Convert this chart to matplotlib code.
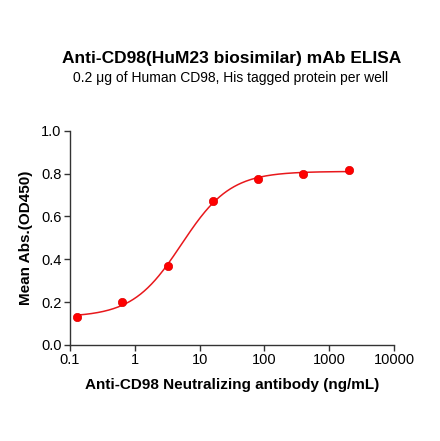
import numpy as np
import matplotlib
matplotlib.use("Agg")
import matplotlib.pyplot as plt

plt.rcParams['font.family'] = ['Liberation Sans', 'DejaVu Sans']

# Data
conc = [0.128, 0.64, 3.2, 16, 80, 400, 2000]
od450 = [0.131, 0.200, 0.370, 0.672, 0.775, 0.799, 0.816]
xticks = [0.1, 1, 10, 100, 1000, 10000]
xticklabels = ["0.1", "1", "10", "100", "1000", "10000"]
yticks = [0.0, 0.2, 0.4, 0.6, 0.8, 1.0]


def fourpl(x, b, t, c, h):
    return b + (t - b) / (1 + (c / x) ** h)


# least-squares 4PL fit by coarse grid search over the data points
cx = np.array(conc)
cy = np.array(od450)
best = None
for b in np.linspace(0.08, 0.16, 17):
    for t in np.linspace(0.78, 0.84, 13):
        for c in np.logspace(np.log10(2), np.log10(10), 41):
            for h in np.linspace(0.8, 1.6, 33):
                err = np.sum((fourpl(cx, b, t, c, h) - cy) ** 2)
                if best is None or err < best[0]:
                    best = (err, b, t, c, h)
_, fb, ft, fc, fh = best

fig = plt.figure(figsize=(4.4, 4.41), dpi=100)
ax = fig.add_axes([70/440, 1-345/441, (394-70)/440, (345-130.7)/441])

xs = np.logspace(np.log10(conc[0]), np.log10(conc[-1]), 300)
ax.plot(xs, fourpl(xs, fb, ft, fc, fh), color='#e8181c', lw=1.1, zorder=2)
ax.scatter(conc, od450, s=36, color='#ff0000', edgecolors='#e00000', linewidths=0.5, zorder=3, clip_on=False)

ax.set_xscale('log')
ax.set_xlim(0.1, 10000)
ax.set_ylim(0, 1.0)
ax.set_xticks(xticks)
ax.set_xticklabels(xticklabels)
ax.xaxis.set_minor_locator(matplotlib.ticker.NullLocator())
ax.set_yticks(yticks)
ax.set_yticklabels([f"{v:.1f}" for v in yticks])
for s in ['top', 'right']:
    ax.spines[s].set_visible(False)
for s in ['left', 'bottom']:
    ax.spines[s].set_linewidth(1.0)
    ax.spines[s].set_color('#333333')
ax.tick_params(axis='both', direction='out', length=4, width=1.0, color='#333333', labelsize=10.5, pad=2)

ax.set_xlabel("Anti-CD98 Neutralizing antibody (ng/mL)", fontsize=11, fontweight='bold', labelpad=8)
ax.set_ylabel("Mean Abs.(OD450)", fontsize=11, fontweight='bold', labelpad=6)

fig.text(232/440, 1-59/441, "Anti-CD98(HuM23 biosimilar) mAb ELISA", ha='center', va='center',
         fontsize=12.5, fontweight='bold')
fig.text(231/440, 1-78/441, "0.2 μg of Human CD98, His tagged protein per well", ha='center', va='center',
         fontsize=10)

fig.savefig("out.png", dpi=100)
